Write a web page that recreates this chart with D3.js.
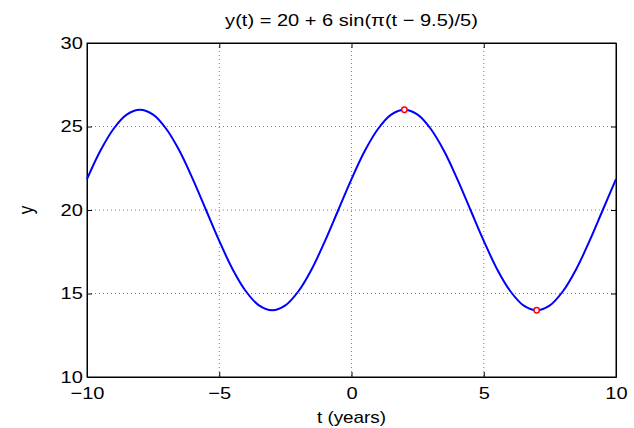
<!DOCTYPE html>
<html>
<head>
<meta charset="utf-8">
<script src="https://cdn.jsdelivr.net/npm/d3@7"></script>
<style>
  body { margin: 0; background: #fff; }
  text { font-family: "Liberation Sans", Arial, sans-serif; }
</style>
</head>
<body>
<div id="chart"></div>
<script>
// Values, every half year
var tValues = [-10, -9.5, -9, -8.5, -8, -7.5, -7, -6.5, -6, -5.5, -5, -4.5, -4, -3.5, -3, -2.5, -2, -1.5, -1, -0.5,
               0, 0.5, 1, 1.5, 2, 2.5, 3, 3.5, 4, 4.5, 5, 5.5, 6, 6.5, 7, 7.5, 8, 8.5, 9, 9.5, 10];
var yValues = [21.85, 23.53, 24.85, 25.71, 26, 25.71, 24.85, 23.53, 21.85, 20, 18.15, 16.47, 15.15, 14.29, 14, 14.29, 15.15, 16.47, 18.15, 20,
               21.85, 23.53, 24.85, 25.71, 26, 25.71, 24.85, 23.53, 21.85, 20, 18.15, 16.47, 15.15, 14.29, 14, 14.29, 15.15, 16.47, 18.15, 20, 21.85];
// Marked extremes
var markT = [2, 7];
var markY = [26, 14];
var xTicks = [-10, -5, 0, 5, 10];
var yTicks = [10, 15, 20, 25, 30];
var titleText = "y(t) = 20 + 6 sin(\u03c0(t \u2212 9.5)/5)";

var svgWidth = 634, svgHeight = 428;
var margin = {top: 43, right: 18, bottom: 51, left: 87};
var w = svgWidth - margin.left - margin.right;
var h = svgHeight - margin.top - margin.bottom;
var stretch = "scale(1.18,1)";  // the picture's text is a bit wider than tall

var svg = d3.select("#chart").append("svg")
    .attr("width", svgWidth)
    .attr("height", svgHeight);

var g = svg.append("g")
    .attr("transform", "translate(" + margin.left + "," + margin.top + ")");

var x = d3.scaleLinear().domain([-10, 10]).range([0, w]);
var y = d3.scaleLinear().domain([10, 30]).range([h, 0]);

// Dotted grid
g.append("g").selectAll("line")
    .data(xTicks.slice(1, -1))
    .join("line")
        .attr("x1", d => x(d)).attr("x2", d => x(d))
        .attr("y1", 0).attr("y2", h)
        .attr("stroke", "#808080").attr("stroke-dasharray", "1,3");
g.append("g").selectAll("line")
    .data(yTicks.slice(1, -1))
    .join("line")
        .attr("y1", d => y(d)).attr("y2", d => y(d))
        .attr("x1", 0).attr("x2", w)
        .attr("stroke", "#808080").attr("stroke-dasharray", "1,3");

// Axes with inward ticks
var fmt = d => d < 0 ? "\u2212" + Math.abs(d) : d;
var xAxis = g.append("g").attr("transform", "translate(0," + h + ")")
    .call(d3.axisBottom(x).tickValues(xTicks).tickSizeInner(-5).tickSizeOuter(0).tickPadding(10).tickFormat(fmt));
var xTop = g.append("g")
    .call(d3.axisTop(x).tickValues(xTicks).tickSizeInner(-5).tickSizeOuter(0).tickFormat(""));
var yAxis = g.append("g")
    .call(d3.axisLeft(y).tickValues(yTicks).tickSizeInner(-5).tickSizeOuter(0).tickPadding(3.5));
var yRight = g.append("g").attr("transform", "translate(" + w + ",0)")
    .call(d3.axisRight(y).tickValues(yTicks).tickSizeInner(-5).tickSizeOuter(0).tickFormat(""));

[xAxis, xTop, yAxis, yRight].forEach(a => {
    a.selectAll("path, line").attr("stroke", "#000");
    a.selectAll("text").attr("fill", "#000").style("font-size", "17px").attr("transform", stretch);
});

// Box
g.append("rect")
    .attr("width", w).attr("height", h)
    .attr("fill", "none").attr("stroke", "#000");

// Curve
var points = tValues.map((t, i) => [t, yValues[i]]);
var line = d3.line()
    .x(d => x(d[0]))
    .y(d => y(d[1]))
    .curve(d3.curveCatmullRom.alpha(0.5));
g.append("path")
    .datum(points)
    .attr("fill", "none")
    .attr("stroke", "#0000ff")
    .attr("stroke-width", 2)
    .attr("d", line);

// Markers
g.append("g").selectAll("circle")
    .data(markT.map((t, i) => [t, markY[i]]))
    .join("circle")
        .attr("cx", d => x(d[0]))
        .attr("cy", d => y(d[1]))
        .attr("r", 2.7)
        .attr("fill", "#fff")
        .attr("stroke", "#ff0000")
        .attr("stroke-width", 1.5);

// Labels
svg.append("text")
    .attr("transform", "translate(" + (margin.left + w / 2) + ",25.5) " + stretch)
    .attr("text-anchor", "middle")
    .style("font-size", "17px")
    .text(titleText);
svg.append("text")
    .attr("transform", "translate(" + (margin.left + w / 2) + ",423) " + stretch)
    .attr("text-anchor", "middle")
    .style("font-size", "16px")
    .text("t (years)");
svg.append("text")
    .attr("transform", "translate(33," + (margin.top + h / 2) + ") " + stretch + " rotate(-90)")
    .attr("text-anchor", "middle")
    .style("font-size", "17px")
    .text("y");
</script>
</body>
</html>
